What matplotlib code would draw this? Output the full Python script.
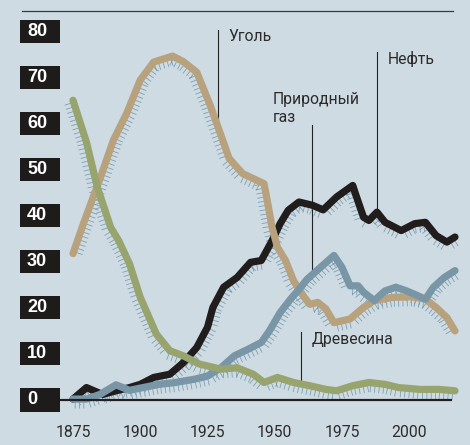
import numpy as np
import matplotlib
matplotlib.use('Agg')
import matplotlib.pyplot as plt
import matplotlib.patheffects as pe
import matplotlib.transforms as mtransforms
from matplotlib import font_manager
from matplotlib.patches import Rectangle
from matplotlib.lines import Line2D

# share of world primary energy, %
coalYears = [1875, 1879, 1885, 1890, 1895, 1900, 1905, 1912, 1916, 1921, 1926, 1930,
             1933, 1938, 1946, 1947, 1949, 1951, 1954, 1957, 1961, 1963, 1966, 1969,
             1972, 1978, 1983, 1987, 1994, 2001, 2006, 2010, 2014, 2017]
coal = [31.8, 38.5, 48.0, 56.4, 62.3, 69.5, 73.4, 74.7, 73.5, 71.2, 64.0, 57.5,
        52.5, 49.2, 47.0, 44.0, 37.5, 33.2, 30.3, 25.9, 22.3, 20.8, 21.2, 19.8,
        16.8, 17.6, 20.1, 21.6, 22.3, 22.4, 21.9, 20.1, 17.9, 15.0]

woodYears = [1875, 1880, 1884, 1889, 1892, 1896, 1900, 1906, 1911, 1916, 1922, 1930,
             1936, 1942, 1946, 1951, 1957, 1963, 1969, 1973, 1979, 1985, 1991, 1996,
             2004, 2011, 2017]
wood = [65.1, 56.0, 46.3, 37.5, 34.6, 29.6, 22.3, 14.3, 10.7, 9.6, 7.8, 6.7,
        7.0, 5.6, 3.8, 4.9, 3.8, 3.1, 2.3, 2.0, 3.1, 3.8, 3.4, 2.7,
        2.3, 2.3, 2.0]

oilYears = [1875, 1880, 1886, 1891, 1896, 1900, 1905, 1911, 1916, 1921, 1925, 1927,
            1931, 1936, 1941, 1945, 1949, 1952, 1955, 1959, 1964, 1968, 1973, 1979,
            1980, 1983, 1985, 1988, 1991, 1997, 2002, 2006, 2010, 2014, 2017]
oil = [0.2, 2.7, 1.2, 2.0, 2.7, 3.4, 4.9, 5.6, 8.1, 11.4, 15.8, 20.1,
       24.5, 26.6, 29.9, 30.3, 34.6, 38.3, 41.2, 43.0, 42.3, 41.3, 44.1, 46.6,
       44.8, 39.7, 39.0, 40.8, 38.6, 36.8, 38.3, 38.6, 35.7, 34.3, 35.4]

gasYears = [1875, 1880, 1885, 1891, 1896, 1901, 1907, 1913, 1920, 1925, 1930, 1935,
            1940, 1945, 1948, 1952, 1956, 1959, 1962, 1967, 1972, 1975, 1978, 1981,
            1983, 1987, 1991, 1995, 1999, 2003, 2006, 2009, 2013, 2017]
gas = [0.2, 0.2, 1.2, 3.3, 2.1, 2.7, 3.4, 3.8, 4.5, 5.2, 7.0, 9.6,
       11.0, 12.5, 15.0, 19.0, 22.0, 24.0, 26.2, 28.8, 31.4, 28.8, 24.8, 24.8,
       23.4, 21.6, 23.7, 24.5, 23.7, 22.7, 21.9, 24.5, 26.6, 28.1]

yTicks = [0, 10, 20, 30, 40, 50, 60, 70, 80]
xTicks = [1875, 1900, 1925, 1950, 1975, 2000]

bg = '#cfdbe2'
tickColor = '#7d9fb2'
textColor = '#2b2b2b'

names = {f.name for f in font_manager.fontManager.ttflist}
narrow = 'Liberation Sans Narrow' if 'Liberation Sans Narrow' in names else 'Roboto'
labelSize = 12 if narrow == 'Liberation Sans Narrow' else 11.3

W, H = 470, 445
fig = plt.figure(figsize=(W / 100, H / 100), dpi=100, facecolor=bg)

# axes placed in pixels: left edge x=60, zero at y=400, 46 px per 10 units
pxPerYear = 2.69
pxPerUnit = 4.604
axLeft, axRight, axTop, axBottom = 60, 462, 10, 445
ax = fig.add_axes([axLeft / W, 1 - axBottom / H, (axRight - axLeft) / W, (axBottom - axTop) / H])
ax.set_facecolor(bg)
x0 = 1875 - (73 - axLeft) / pxPerYear
ax.set_xlim(x0, x0 + (axRight - axLeft) / pxPerYear)
ax.set_ylim(-(axBottom - 400) / pxPerUnit, (400 - axTop) / pxPerUnit)
ax.axis('off')

# little hanging ticks under every line
for xs, ys in [(oilYears, oil), (coalYears, coal), (gasYears, gas), (woodYears, wood)]:
    ax.plot(xs, ys, color=tickColor, lw=0, zorder=2,
            path_effects=[pe.TickedStroke(spacing=3.1, angle=-90, length=2.1,
                                          linewidth=0.6, foreground=tickColor)])

lineStyle = dict(lw=5.2, solid_capstyle='round', solid_joinstyle='round')
ax.plot(oilYears, oil, color='#211d1d', zorder=3, **lineStyle)
ax.plot(coalYears, coal, color='#b8a27d', zorder=4, **lineStyle)
ax.plot(gasYears, gas, color='#7896a6', zorder=5, **lineStyle)
ax.plot(woodYears, wood, color='#98a46e', zorder=6, **lineStyle)

# zero line
ax.plot([x0, 2016], [0, 0], color='#231f20', lw=1.6, zorder=7, solid_capstyle='butt')

# y labels in black boxes
tr = mtransforms.blended_transform_factory(fig.transFigure, ax.transData)
for v in yTicks:
    ax.add_patch(Rectangle((20 / W, v - 2.5), 40 / W, 5.0, transform=tr,
                           facecolor='#1e1b1b', edgecolor='none', clip_on=False, zorder=8))
    ax.text(27 / W, v, str(v), transform=tr, ha='left', va='center', color='white',
            fontsize=13, fontweight='bold', family='Liberation Sans', zorder=9)

# x labels
for yr in xTicks:
    ax.text(yr, -7.0, str(yr), ha='center', va='center', color=textColor,
            fontsize=labelSize, family=narrow)

# top rule
fig.add_artist(Line2D([22 / W, 453 / W], [1 - 10.5 / H, 1 - 10.5 / H],
                      transform=fig.transFigure, color='#3a3a3a', lw=0.9))

# annotations
annot = dict(color='#222222', lw=0.8, zorder=1)
ax.plot([1929, 1929], [59.0, 80.4], **annot)
ax.text(1932.6, 78.9, 'Уголь', fontsize=labelSize, family=narrow, color=textColor, va='center')

ax.plot([1988, 1988], [41.2, 75.6], **annot)
ax.text(1991.9, 74.0, 'Нефть', fontsize=labelSize, family=narrow, color=textColor, va='center')

ax.plot([1963.8, 1963.8], [28.1, 59.7], **annot)
ax.text(1949.3, 63.3, 'Природный\nгаз', fontsize=labelSize, family=narrow, color=textColor,
        va='center', linespacing=1.3)

ax.plot([1959.8, 1959.8], [3.0, 14.7], **annot)
ax.text(1963.7, 13.2, 'Древесина', fontsize=labelSize, family=narrow, color=textColor, va='center')

fig.savefig('out.png', dpi=100, facecolor=bg)
